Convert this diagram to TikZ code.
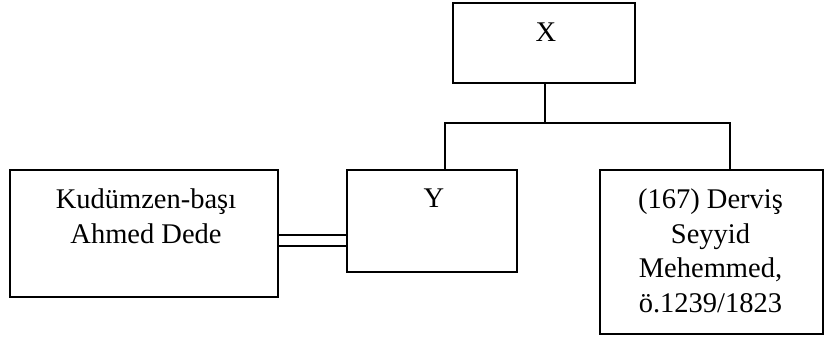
\documentclass[tikz,border=0pt]{standalone}
\usepackage{fontspec}
\setmainfont{Liberation Serif}
\begin{document}
\begin{tikzpicture}[x=1pt,y=-1pt,
  box/.style={draw=black,line width=1.3pt,rectangle,inner sep=0pt},
  label/.style={anchor=north,inner sep=0pt,align=center,font=\fontsize{28.5}{34.8}\selectfont},
  link/.style={draw=black,line width=1.3pt}]
\useasboundingbox (0,0) rectangle (826,342);
% boxes
\node[box,minimum width=182pt,minimum height=80pt] (X) at (544,43) {};
\node[box,minimum width=170pt,minimum height=102pt] (Y) at (432,221) {};
\node[box,minimum width=268pt,minimum height=127pt] (L) at (144,233.5) {};
\node[box,minimum width=223pt,minimum height=164pt] (R) at (711.5,252) {};
% texts
\node[label] (Xt) at (546,21) {\rule{0pt}{20pt}X};
\node[label] (Yt) at (434,187) {\rule{0pt}{20pt}Y};
\node[label] (Lt) at (146,188) {\rule{0pt}{20pt}Kudümzen-başı\\Ahmed Dede};
\node[label] (Rt) at (710.5,188) {\rule{0pt}{20pt}(167) Derviş\\Seyyid\\Mehemmed,\\ö.1239/1823};
% connectors
\coordinate (J) at (545,123);
\draw[link] (X.south -| J) -- (J);
\draw[link] ([xshift=13pt]Y.north) |- (J) -| ([xshift=18.5pt]R.north);
\draw[link] ([yshift=-12.5pt]L.east) -- ([yshift=-12.5pt]L.east -| Y.west);
\draw[link] ([yshift=-1.5pt]L.east) -- ([yshift=-1.5pt]L.east -| Y.west);
\end{tikzpicture}
\end{document}
